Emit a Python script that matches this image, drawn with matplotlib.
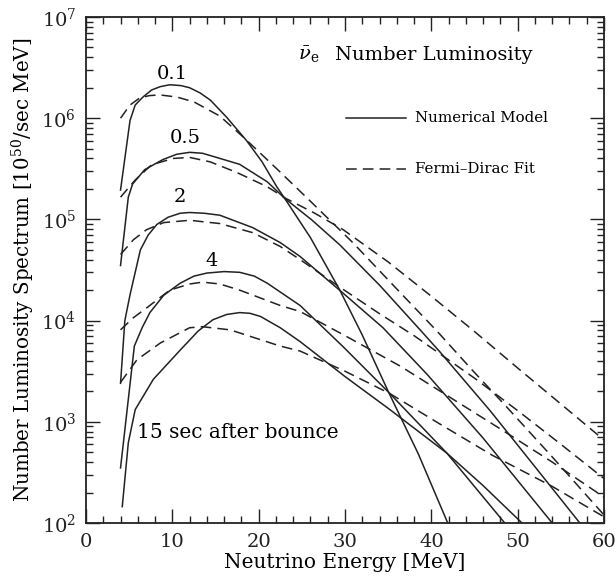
import numpy as np
import matplotlib.pyplot as plt
from matplotlib.ticker import MultipleLocator, LogLocator, NullFormatter

plt.rcParams['font.family'] = 'DejaVu Serif'
plt.rcParams['mathtext.fontset'] = 'dejavuserif'

# numerical model (solid)
x_01 = [4, 5.1, 5.7, 6.6, 7.6, 8.6, 9.7, 11, 12, 13.2, 14.4, 16.3, 18.6, 20.4, 22.1, 23, 26,
        29.4, 32, 35, 38.5, 41.9]
y_01 = [1.95e5, 9.5e5, 1.35e6, 1.62e6, 1.9e6, 2.05e6, 2.14e6, 2.1e6, 2.0e6, 1.78e6, 1.51e6,
        1.02e6, 6.0e5, 3.7e5, 2.1e5, 1.62e5, 6.6e4, 2.0e4, 7.2e3, 2.0e3, 4.8e2, 1.0e2]
x_05 = [4, 4.9, 5.4, 6.8, 8.9, 10.5, 12, 13.5, 14.7, 17.8, 21, 23, 26.2, 29.4, 34, 38.7, 41,
        46.8, 52, 57.2]
y_05 = [3.5e4, 1.66e5, 2.24e5, 3.1e5, 3.9e5, 4.4e5, 4.6e5, 4.5e5, 4.2e5, 3.5e5, 2.35e5,
        1.62e5, 9.8e4, 5.6e4, 2.24e4, 8.1e3, 4.9e3, 1.29e3, 3.6e2, 1.0e2]
x_2 = [4, 4.5, 5.1, 6.3, 7.2, 8.2, 9.5, 10.9, 12, 13.7, 15.5, 19.3, 22.5, 24.8, 29.8, 34.4,
       39.5, 46, 54]
y_2 = [2.4e3, 1.0e4, 1.8e4, 5.0e4, 7.0e4, 8.9e4, 1.05e5, 1.15e5, 1.17e5, 1.15e5, 1.1e5,
       8.3e4, 5.9e4, 4.3e4, 1.86e4, 8.5e3, 2.95e3, 6.9e2, 1.0e2]
x_4 = [4, 5.6, 6.5, 7.4, 9, 10.9, 12.5, 14, 16, 17.8, 19.5, 21, 24.8, 29.8, 35.2, 41.8, 48.5]
y_4 = [3.5e2, 5.6e3, 8.5e3, 1.2e4, 1.78e4, 2.34e4, 2.75e4, 2.95e4, 3.05e4, 3.0e4, 2.75e4,
       2.34e4, 1.41e4, 5.5e3, 1.9e3, 4.9e2, 1.0e2]
x_15 = [4.2, 4.9, 5.7, 7.8, 10.9, 13, 14.7, 16.3, 17.8, 19, 20.2, 22.5, 24.8, 30, 35.2, 41.8,
        46, 50.5]
y_15 = [1.45e2, 6.2e2, 1.32e3, 2.63e3, 5.1e3, 7.9e3, 1.02e4, 1.15e4, 1.2e4, 1.18e4, 1.1e4,
        8.5e3, 6.2e3, 2.8e3, 1.32e3, 4.9e2, 2.34e2, 1.0e2]

# Fermi-Dirac fits (dashed)
fx_01 = [4, 5.1, 6.2, 7.3, 8.5, 10.5, 12.5, 15.5, 18.4, 22.1, 26, 30.9, 35.8, 40.7, 44.8, 48.8,
         54, 60]
fy_01 = [1.0e6, 1.35e6, 1.58e6, 1.67e6, 1.7e6, 1.62e6, 1.45e6, 1.05e6, 6.3e5, 3.16e5, 1.51e5,
         5.9e4, 2.14e4, 7.8e3, 3.2e3, 1.38e3, 4.5e2, 1.2e2]
fx_05 = [4, 5.7, 7.6, 10.1, 12, 14.4, 17.5, 21, 23.1, 26.5, 29.8, 35, 40, 45, 50, 55, 60]
fy_05 = [1.66e5, 2.45e5, 3.47e5, 4.0e5, 4.1e5, 3.7e5, 2.9e5, 2.1e5, 1.62e5, 1.15e5, 7.9e4,
         3.8e4, 1.74e4, 7.8e3, 3.4e3, 1.5e3, 6.6e2]
fx_2 = [4, 5.5, 7, 9, 12, 15.5, 19.3, 22.5, 25, 29.4, 34, 38, 45, 50, 55, 60]
fy_2 = [4.5e4, 6.3e4, 7.9e4, 9.3e4, 9.8e4, 9.1e4, 7.4e4, 5.4e4, 3.9e4, 2.14e4, 1.17e4,
        7.1e3, 2.7e3, 1.29e3, 6.0e2, 2.75e2]
fx_4 = [4, 5.5, 7.1, 9.7, 12, 13.5, 15.5, 17.8, 22.5, 24.8, 30, 36.4, 42, 48, 54, 60]
fy_4 = [8.1e3, 1.07e4, 1.35e4, 2.0e4, 2.3e4, 2.4e4, 2.3e4, 2.0e4, 1.41e4, 1.23e4, 7.1e3,
        3.55e3, 1.78e3, 8.5e2, 4.0e2, 1.8e2]
fx_15 = [4, 5.9, 8.6, 12, 13.5, 16.7, 22.5, 24.8, 30, 35.2, 41, 47, 54, 60]
fy_15 = [2.45e3, 4.1e3, 6.0e3, 8.5e3, 8.7e3, 8.1e3, 5.6e3, 5.0e3, 3.16e3, 1.9e3, 9.5e2,
         4.7e2, 2.3e2, 1.15e2]

times = ['0.1', '0.5', '2', '4']
label_x = [10, 11.5, 10.9, 14.6]
label_y = [2.75e6, 6.4e5, 1.68e5, 3.9e4]

col = '#222222'
dash = (0, (7, 4))

fig = plt.figure(figsize=(6.16, 5.8), dpi=100)
ax = fig.add_axes([86/616, 1 - 523/580, 518/616, 506/580])

for x, y in [(x_01, y_01), (x_05, y_05), (x_2, y_2), (x_4, y_4), (x_15, y_15)]:
    ax.plot(x, y, color=col, lw=1.1)
for x, y in [(fx_01, fy_01), (fx_05, fy_05), (fx_2, fy_2), (fx_4, fy_4), (fx_15, fy_15)]:
    ax.plot(x, y, color=col, lw=1.1, linestyle=dash)

for t, lx, ly in zip(times, label_x, label_y):
    ax.text(lx, ly, t, ha='center', va='center', fontsize=14)
ax.text(5.9, 7.8e2, '15 sec after bounce', ha='left', va='center', fontsize=14.5)

# title and legend drawn by hand as in the original
ax.text(0.41, 0.925, r'$\bar{\nu}_{\mathrm{e}}$', transform=ax.transAxes, fontsize=14,
        ha='left', va='center')
ax.text(0.481, 0.925, 'Number Luminosity', transform=ax.transAxes, fontsize=14,
        ha='left', va='center')
ax.plot([0.501, 0.617], [0.80, 0.80], transform=ax.transAxes, color=col, lw=1.1)
ax.text(0.635, 0.80, 'Numerical Model', transform=ax.transAxes, fontsize=10.8,
        ha='left', va='center')
ax.plot([0.501, 0.617], [0.70, 0.70], transform=ax.transAxes, color=col, lw=1.1,
        linestyle=dash)
ax.text(0.635, 0.70, 'Fermi\u2013Dirac Fit', transform=ax.transAxes, fontsize=10.8,
        ha='left', va='center')

ax.set_yscale('log')
ax.set_xlim(0, 60)
ax.set_ylim(1e2, 1e7)
ax.xaxis.set_major_locator(MultipleLocator(10))
ax.xaxis.set_minor_locator(MultipleLocator(2))
ax.yaxis.set_major_locator(LogLocator(base=10))
ax.yaxis.set_minor_locator(LogLocator(base=10, subs=np.arange(2, 10)))
ax.yaxis.set_minor_formatter(NullFormatter())
ax.tick_params(which='both', direction='in', top=True, right=True, width=1.0, colors=col)
ax.tick_params(which='major', length=10, labelsize=14, pad=7)
ax.tick_params(which='minor', length=5)
for s in ax.spines.values():
    s.set_linewidth(1.3)
    s.set_color(col)

ax.set_xlabel('Neutrino Energy [MeV]', fontsize=14.5, labelpad=2)
ax.set_ylabel(r'Number Luminosity Spectrum [10$^{50}$/sec MeV]', fontsize=14.3, labelpad=3)

fig.savefig('out.png', dpi=100)
